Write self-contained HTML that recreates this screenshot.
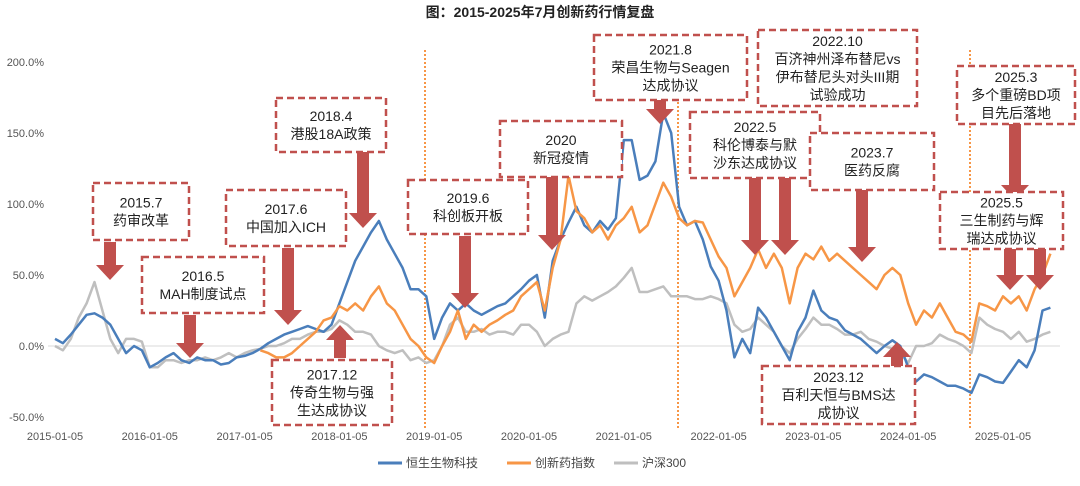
<!DOCTYPE html>
<html><head><meta charset="utf-8">
<style>
body{margin:0;background:#fff;width:1080px;height:481px;overflow:hidden;font-family:"Liberation Sans","Noto Sans CJK SC",sans-serif;}
svg text{font-family:"Liberation Sans","Noto Sans CJK SC",sans-serif;}
</style></head>
<body>
<svg id="chart" width="1080" height="481">
<text x="540" y="17" text-anchor="middle" font-size="14" font-weight="bold" fill="#222">图：2015-2025年7月创新药行情复盘</text>
<g id="axes"></g><g id="series"></g><g id="annot"></g><g id="legend"></g>
</svg>
<script>
const startYear = 2015;
const yTicks = [200, 150, 100, 50, 0, -50];
const xTickLabels = ["2015-01-05","2016-01-05","2017-01-05","2018-01-05","2019-01-05","2020-01-05","2021-01-05","2022-01-05","2023-01-05","2024-01-05","2025-01-05"];
const hsBio = [5,2,8,15,22,23,20,15,5,-5,0,-3,
 -15,-12,-8,-5,-10,-12,-8,-10,-10,-13,-12,-8,
 -7,-5,-2,2,5,8,10,12,14,12,10,15,
 30,45,60,70,80,88,75,65,55,40,40,35,
 5,20,30,25,30,25,22,25,28,30,35,40,
 46,50,20,60,75,87,98,85,80,88,82,90,
 145,145,117,120,130,164,150,98,85,88,75,56,
 46,25,-8,5,-5,27,20,10,0,-10,10,20,
 39,25,20,18,11,8,5,0,-5,0,4,0,
 -15,-25,-20,-22,-25,-28,-28,-30,-33,-20,-22,-25,
 -26,-18,-10,-15,-3,25,27];
const cxIndex = [null,null,null,null,null,null,null,null,null,null,null,null,
 null,null,null,null,null,null,null,null,null,null,null,null,
 null,null,-3,-5,-8,-8,-5,0,5,10,18,20,
 28,25,30,25,35,42,30,25,15,5,0,-8,
 -12,0,10,25,5,15,10,15,18,22,25,35,
 40,45,25,55,75,120,95,90,80,85,75,85,
 90,98,80,85,100,115,105,90,85,88,87,75,
 63,55,35,45,55,68,55,65,55,30,55,65,
 61,70,60,65,60,55,50,45,40,50,55,50,
 30,15,25,20,30,20,10,8,3,30,28,25,
 35,30,35,25,40,50,65];
const hs300 = [0,-3,5,20,30,45,25,5,-5,5,5,3,
 -15,-15,-10,-10,-12,-10,-10,-8,-10,-8,-5,-8,
 -5,-3,-2,0,0,2,5,5,8,10,10,12,
 18,15,10,10,8,0,-3,-5,-3,-10,-8,-12,
 -10,0,15,20,10,10,12,8,10,10,8,15,
 15,10,0,5,8,10,30,35,32,35,38,42,
 48,55,38,38,40,42,35,35,35,33,33,35,
 33,30,15,10,12,20,15,10,0,-5,5,12,
 20,15,15,12,8,8,10,5,3,0,-2,-5,
 -12,0,0,2,8,5,3,0,-5,20,15,12,
 10,5,10,3,5,8,10];

const NS="http://www.w3.org/2000/svg";
function mk(tag,attrs,parent){const e=document.createElementNS(NS,tag);for(const k in attrs)e.setAttribute(k,attrs[k]);parent.appendChild(e);return e;}
const X0=55, PX_YEAR=94.8;
function xScale(i){return X0+(i/12)*PX_YEAR;}
function yScale(v){return 346-(v/50)*71;}

const axes=document.getElementById('axes');
const zl=mk('line',{x1:48,x2:1060,y1:yScale(0),y2:yScale(0),stroke:'#d9d9d9','stroke-width':1},axes);


yTicks.forEach(t=>{
 const tx=mk('text',{x:44,y:yScale(t)+4,'text-anchor':'end','font-size':11,fill:'#555'},axes);
 tx.textContent=t.toFixed(1)+'%';
 
 
});
xTickLabels.forEach((l,k)=>{
 const tx=mk('text',{x:xScale(k*12),y:440,'text-anchor':'middle','font-size':11,fill:'#555'},axes);
 tx.textContent=l;
 
 
});
[425,678,970].forEach(x=>{
 const l=mk('line',{x1:x,x2:x,y1:50,y2:428,stroke:'#f79646','stroke-width':2,'stroke-dasharray':'2,2'},axes);
 
 
});

const ser=document.getElementById('series');
function drawLine(arr,color,name){
 let d='';arr.forEach((v,i)=>{if(v===null)return;d+=(d?'L':'M')+xScale(i).toFixed(1)+','+yScale(v).toFixed(1);});
 const p=mk('path',{d:d,fill:'none',stroke:color,'stroke-width':2.5,'stroke-linejoin':'round'},ser);
 
 
}
drawLine(hs300,'#bfbfbf','line-hs300');
drawLine(hsBio,'#4a7ebb','line-hang-seng-biotech');
drawLine(cxIndex,'#f79646','line-innovative-drug-index');

const an=document.getElementById('annot');
const RED='#c0504d';
const boxes=[
 [93,183,96,57,["2015.7","药审改革"]],
 [142,257,122,56,["2016.5","MAH制度试点"]],
 [226,190,120,56,["2017.6","中国加入ICH"]],
 [276,98,110,54,["2018.4","港股18A政策"]],
 [272,360,120,65,["2017.12","传奇生物与强","生达成协议"]],
 [408,180,120,54,["2019.6","科创板开板"]],
 [500,121,122,56,["2020","新冠疫情"]],
 [594,35,153,65,["2021.8","荣昌生物与Seagen","达成协议"]],
 [758,30,159,76,["2022.10","百济神州泽布替尼vs","伊布替尼头对头III期","试验成功"]],
 [690,112,130,66,["2022.5","科伦博泰与默","沙东达成协议"]],
 [810,133,124,57,["2023.7","医药反腐"]],
 [957,66,118,58,["2025.3","多个重磅BD项","目先后落地"]],
 [940,192,123,57,["2025.5","三生制药与辉","瑞达成协议"]],
 [762,366,153,58,["2023.12","百利天恒与BMS达","成协议"]]
];
const arrows=[[110,242,280],[190,315,358],[288,248,325],[363,152,228],[340,358,325],[465,236,308],[552,177,250],[660,100,124],[755,178,255],[785,178,255],[862,190,262],[1015,124,200],[1010,249,290],[1040,249,290],[897,378,342]];
arrows.forEach(a=>{
 const [x,y1,y2]=a;const dir=y2>y1?1:-1;const hl=15;const yb=y2-dir*hl;
 const p=mk('polygon',{points:`${x-6},${y1} ${x+6},${y1} ${x+6},${yb} ${x+14},${yb} ${x},${y2} ${x-14},${yb} ${x-6},${yb}`,fill:RED},an);
 
 
});
boxes.forEach(b=>{
 const [x,y,w,h,lines]=b;
 const r=mk('rect',{x:x,y:y,width:w,height:h,fill:'#fff',stroke:RED,'stroke-width':2.5,'stroke-dasharray':'7,4'},an);
 
 
 const lh=18;const top=y+h/2-(lines.length*lh)/2+14;
 lines.forEach((t,k)=>{
  const tx=mk('text',{x:x+w/2,y:top+k*lh,'text-anchor':'middle','font-size':14,fill:'#222'},an);
  tx.textContent=t;
  
  
 });
});

const lg=document.getElementById('legend');
[[378,'#4a7ebb','恒生生物科技'],[507,'#f79646','创新药指数'],[614,'#bfbfbf','沪深300']].forEach(e=>{
 const l=mk('line',{x1:e[0],x2:e[0]+24,y1:463,y2:463,stroke:e[1],'stroke-width':3},lg);
 
 
 const t=mk('text',{x:e[0]+28,y:467,'font-size':12,fill:'#444'},lg);
 t.textContent=e[2];
 
 
});
</script>
</body></html>
